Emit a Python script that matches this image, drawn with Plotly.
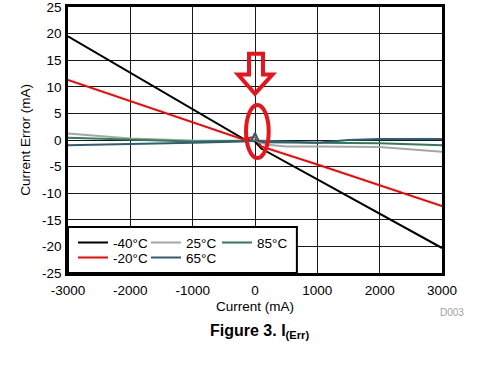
import plotly.graph_objects as go

# Data (mA)
x_m40 = [-3000, -2000, -1000, -200, 0, 100, 1000, 2000, 3000]
y_m40 = [19.5, 12.6, 5.8, 0.3, -0.3, -1.6, -7.4, -13.85, -20.3]

x_m20 = [-3000, -2000, -1000, -500, -200, 0, 100, 1000, 2000, 3000]
y_m20 = [11.3, 7.3, 3.3, 1.35, 0.15, 0.6, -1.2, -4.6, -8.5, -12.4]

x_25 = [-3000, -2000, -1000, -200, -60, 0, 60, 200, 500, 1000, 2000, 3000]
y_25 = [1.2, 0.3, -0.1, -0.2, -0.2, 1.1, -0.3, -0.9, -1.2, -1.2, -1.3, -2.2]

x_65 = [-3000, -2000, -1000, -200, -60, 0, 60, 150, 1000, 1500, 2000, 3000]
y_65 = [-1.0, -0.7, -0.5, -0.3, -0.2, 1.35, -0.2, -0.4, -0.5, 0.0, 0.2, 0.2]

x_85 = [-3000, -2000, -1000, 0, 1000, 2000, 3000]
y_85 = [0.4, 0.0, -0.3, -0.1, -0.5, -0.6, -1.0]

x_tickvals = [-3000, -2000, -1000, 0, 1000, 2000, 3000]
x_ticktext = ["-3000", "-2000", "-1000", "0", "1000", "2000", "3000"]
y_tickvals = [-25, -20, -15, -10, -5, 0, 5, 10, 15, 20, 25]
y_ticktext = ["-25", "-20", "-15", "-10", "-5", "0", "5", "10", "15", "20", "25"]

FONT = "Arial, Liberation Sans, sans-serif"

# name, x, y, colour, legend id, legend x (paper), legend y (paper)
series = [
    ("-40°C", x_m40, y_m40, "#000000", "legend", 0.0134, 0.114),
    ("-20°C", x_m20, y_m20, "#ff0000", "legend2", 0.0134, 0.0575),
    ("25°C", x_25, y_25, "#a6a6a6", "legend3", 0.2086, 0.114),
    ("85°C", x_85, y_85, "#2e7d55", "legend4", 0.3984, 0.114),
    ("65°C", x_65, y_65, "#2f5d78", "legend5", 0.2086, 0.0575),
]

fig = go.Figure()
legends = {}
for name, xs, ys, col, lg, lx, ly in series:
    fig.add_trace(go.Scatter(x=xs, y=ys, mode="lines", name=name,
                             line=dict(color=col, width=2), legend=lg))
    legends[lg] = dict(orientation="h", x=lx, y=ly, xanchor="left", yanchor="middle",
                       bgcolor="rgba(0,0,0,0)", borderwidth=0, itemwidth=30,
                       font=dict(family=FONT, size=13.5, color="black"))

axis_common = dict(showgrid=True, gridcolor="#1a1a1a", gridwidth=1,
                   zeroline=False, showline=True, linecolor="black",
                   linewidth=2.5, mirror=True, ticks="", automargin=False,
                   ticklabeloverflow="allow",
                   tickfont=dict(family=FONT, size=13.5, color="black"))

fig.update_layout(
    width=482, height=366,
    margin=dict(l=68, r=40, t=7, b=93),
    paper_bgcolor="white", plot_bgcolor="white",
    font=dict(family=FONT, size=13.5, color="black"),
    xaxis=dict(range=[-3000, 3000], tickmode="array", tickvals=x_tickvals,
               ticktext=x_ticktext, ticklabelstandoff=3,
               title=dict(text="Current (mA)", standoff=5,
                          font=dict(family=FONT, size=13.5, color="black")),
               **axis_common),
    yaxis=dict(range=[-25, 25], tickmode="array", tickvals=y_tickvals,
               ticktext=y_ticktext, ticklabelstandoff=1,
               title=dict(text="Current Error (mA)", standoff=9,
                          font=dict(family=FONT, size=13.5, color="black")),
               **axis_common),
    showlegend=True,
    **legends,
)

# legend frame
fig.add_shape(type="rect", xref="paper", yref="paper", x0=0, x1=0.612, y0=0, y1=0.173,
              fillcolor="white", line=dict(color="black", width=2), layer="above")

# red highlight arrow and ellipse
fig.add_shape(type="path", xref="x", yref="y",
              path="M -96,16.2 L 128,16.2 L 128,12.3 L 281,12.3 L 0,8.7 L -273,12.3 L -96,12.3 Z",
              line=dict(color="#e8141c", width=4), layer="above")
fig.add_shape(type="circle", xref="x", yref="y", x0=-144, x1=220, y0=-3.4, y1=6.6,
              line=dict(color="#e8141c", width=4), layer="above")

fig.add_annotation(text="D003", xref="paper", yref="paper", x=1.064, y=-0.147,
                   xanchor="right", yanchor="middle", showarrow=False,
                   font=dict(family=FONT, size=10, color="#a0a0a0"))
fig.add_annotation(text="<b>Figure 3. I<sub>(Err)</sub></b>", xref="paper", yref="paper",
                   x=0.513, y=-0.221, xanchor="center", yanchor="middle", showarrow=False,
                   font=dict(family=FONT, size=16, color="black"))

fig.write_html("out.html", config={"displayModeBar": False},
               post_script="document.body.style.margin='0';document.body.style.overflow='hidden';")
